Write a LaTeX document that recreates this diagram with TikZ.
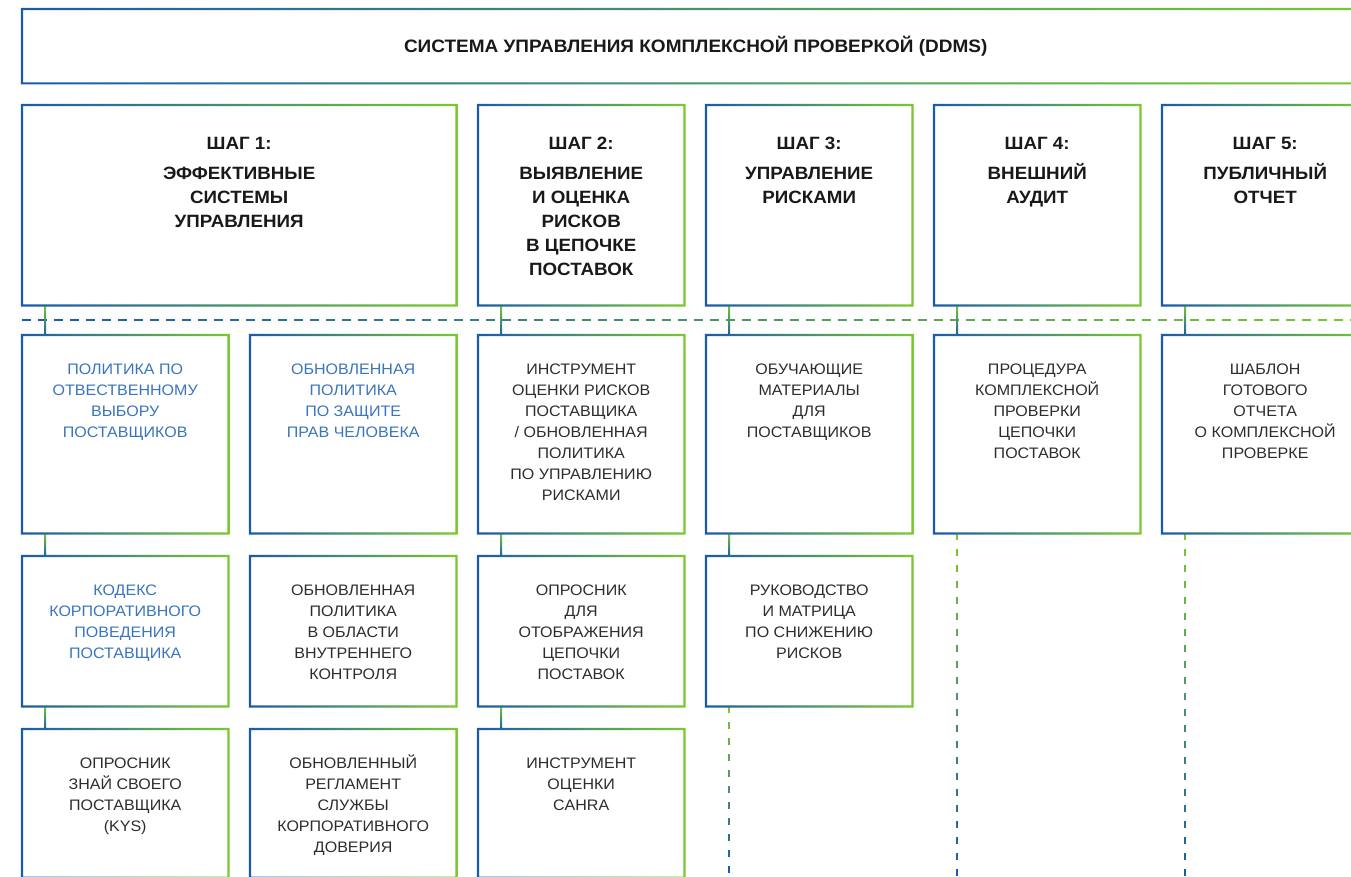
\documentclass[tikz,border=0pt]{standalone}
\usepackage{fontspec}
\setmainfont{Liberation Sans}[FakeStretch=1.055]
\usetikzlibrary{calc}
\definecolor{cb}{RGB}{26,91,170}
\definecolor{cg}{RGB}{122,201,48}
\definecolor{tb}{RGB}{58,117,190}
\definecolor{td}{RGB}{45,45,45}
\definecolor{th}{RGB}{25,25,25}
\newcommand\gframe[1]{\shade[even odd rule, left color=cb, right color=cg]
  ([shift={(-1.1pt,-1.1pt)}]#1.south west) rectangle ([shift={(1.1pt,1.1pt)}]#1.north east)
  ([shift={(1.1pt,1.1pt)}]#1.south west) rectangle ([shift={(-1.1pt,-1.1pt)}]#1.north east);}
\newcommand\conn[2]{\shade[top color=cg, bottom color=cb]
  ([xshift=22pt]#1.south west) rectangle ([xshift=24pt]#2.north west);}
\newcommand\dashdown[2]{%
  \foreach \i in {0,...,#2}{%
    \pgfmathtruncatemacro\pc{100-100*\i/#2}%
    \draw[draw=cg!\pc!cb, line width=2.2pt]
      ([xshift=23pt,yshift={-16pt*\i}]#1.south west) -- ([xshift=23pt,yshift={-16pt*\i-6.5pt}]#1.south west);
  }}
\begin{document}
\begin{tikzpicture}[x=1pt,y=-1pt,
  boxn/.style={draw=none, inner sep=0pt, anchor=north west, minimum width=206pt},
  subtxt/.style={anchor=north, inner sep=0pt, align=center, text=td, font=\fontsize{15.2}{21}\selectfont},
  bluetxt/.style={subtxt, text=tb},
  steptxt/.style={anchor=north, inner sep=0pt, align=center, text=th, font=\bfseries\fontsize{17.8}{24}\selectfont},
]
\useasboundingbox (0,0) rectangle (1351,877);
\clip (0,0) rectangle (1351,877);
\fill[white] (0,0) rectangle (1351,877);

% title
\node[boxn, minimum width=1347pt, minimum height=74pt, text=th, font=\bfseries\fontsize{18}{22}\selectfont] (title) at (22,9)
  {СИСТЕМА УПРАВЛЕНИЯ КОМПЛЕКСНОЙ ПРОВЕРКОЙ (DDMS)};

% steps
\node[boxn, minimum width=434pt, minimum height=200pt] (s1) at (22,105) {};
\node[boxn, minimum height=200pt] (s2) at (478,105) {};
\node[boxn, minimum height=200pt] (s3) at (706,105) {};
\node[boxn, minimum height=200pt] (s4) at (934,105) {};
\node[boxn, minimum height=200pt] (s5) at (1162,105) {};

\node[steptxt] (ts1) at ([yshift=-28pt]s1.north) {\rule{0pt}{16pt}ШАГ 1:\\[6pt]ЭФФЕКТИВНЫЕ\\СИСТЕМЫ\\УПРАВЛЕНИЯ};
\node[steptxt] (ts2) at ([yshift=-28pt]s2.north) {\rule{0pt}{16pt}ШАГ 2:\\[6pt]ВЫЯВЛЕНИЕ\\И ОЦЕНКА\\РИСКОВ\\В ЦЕПОЧКЕ\\ПОСТАВОК};
\node[steptxt] (ts3) at ([yshift=-28pt]s3.north) {\rule{0pt}{16pt}ШАГ 3:\\[6pt]УПРАВЛЕНИЕ\\РИСКАМИ};
\node[steptxt] (ts4) at ([yshift=-28pt]s4.north) {\rule{0pt}{16pt}ШАГ 4:\\[6pt]ВНЕШНИЙ\\АУДИТ};
\node[steptxt] (ts5) at ([yshift=-28pt]s5.north) {\rule{0pt}{16pt}ШАГ 5:\\[6pt]ПУБЛИЧНЫЙ\\ОТЧЕТ};

% row 1
\node[boxn, minimum height=198pt] (r11) at (22,335) {};
\node[boxn, minimum height=198pt] (r12) at (250,335) {};
\node[boxn, minimum height=198pt] (r13) at (478,335) {};
\node[boxn, minimum height=198pt] (r14) at (706,335) {};
\node[boxn, minimum height=198pt] (r15) at (934,335) {};
\node[boxn, minimum height=198pt] (r16) at (1162,335) {};
% row 2
\node[boxn, minimum height=150pt] (r21) at (22,556) {};
\node[boxn, minimum height=150pt] (r22) at (250,556) {};
\node[boxn, minimum height=150pt] (r23) at (478,556) {};
\node[boxn, minimum height=150pt] (r24) at (706,556) {};
% row 3
\node[boxn, minimum height=148.3pt] (r31) at (22,729) {};
\node[boxn, minimum height=148.3pt] (r32) at (250,729) {};
\node[boxn, minimum height=148.3pt] (r33) at (478,729) {};

\node[bluetxt] (t11) at ([yshift=-25pt]r11.north) {\rule{0pt}{14pt}ПОЛИТИКА ПО\\ОТВЕСТВЕННОМУ\\ВЫБОРУ\\ПОСТАВЩИКОВ};
\node[bluetxt] (t12) at ([yshift=-25pt]r12.north) {\rule{0pt}{14pt}ОБНОВЛЕННАЯ\\ПОЛИТИКА\\ПО ЗАЩИТЕ\\ПРАВ ЧЕЛОВЕКА};
\node[subtxt] (t13) at ([yshift=-25pt]r13.north) {\rule{0pt}{14pt}ИНСТРУМЕНТ\\ОЦЕНКИ РИСКОВ\\ПОСТАВЩИКА\\/ ОБНОВЛЕННАЯ\\ПОЛИТИКА\\ПО УПРАВЛЕНИЮ\\РИСКАМИ};
\node[subtxt] (t14) at ([yshift=-25pt]r14.north) {\rule{0pt}{14pt}ОБУЧАЮЩИЕ\\МАТЕРИАЛЫ\\ДЛЯ\\ПОСТАВЩИКОВ};
\node[subtxt] (t15) at ([yshift=-25pt]r15.north) {\rule{0pt}{14pt}ПРОЦЕДУРА\\КОМПЛЕКСНОЙ\\ПРОВЕРКИ\\ЦЕПОЧКИ\\ПОСТАВОК};
\node[subtxt] (t16) at ([yshift=-25pt]r16.north) {\rule{0pt}{14pt}ШАБЛОН\\ГОТОВОГО\\ОТЧЕТА\\О КОМПЛЕКСНОЙ\\ПРОВЕРКЕ};
\node[bluetxt] (t21) at ([yshift=-25pt]r21.north) {\rule{0pt}{14pt}КОДЕКС\\КОРПОРАТИВНОГО\\ПОВЕДЕНИЯ\\ПОСТАВЩИКА};
\node[subtxt] (t22) at ([yshift=-25pt]r22.north) {\rule{0pt}{14pt}ОБНОВЛЕННАЯ\\ПОЛИТИКА\\В ОБЛАСТИ\\ВНУТРЕННЕГО\\КОНТРОЛЯ};
\node[subtxt] (t23) at ([yshift=-25pt]r23.north) {\rule{0pt}{14pt}ОПРОСНИК\\ДЛЯ\\ОТОБРАЖЕНИЯ\\ЦЕПОЧКИ\\ПОСТАВОК};
\node[subtxt] (t24) at ([yshift=-25pt]r24.north) {\rule{0pt}{14pt}РУКОВОДСТВО\\И МАТРИЦА\\ПО СНИЖЕНИЮ\\РИСКОВ};
\node[subtxt] (t31) at ([yshift=-25pt]r31.north) {\rule{0pt}{14pt}ОПРОСНИК\\ЗНАЙ СВОЕГО\\ПОСТАВЩИКА\\(KYS)};
\node[subtxt] (t32) at ([yshift=-25pt]r32.north) {\rule{0pt}{14pt}ОБНОВЛЕННЫЙ\\РЕГЛАМЕНТ\\СЛУЖБЫ\\КОРПОРАТИВНОГО\\ДОВЕРИЯ};
\node[subtxt] (t33) at ([yshift=-25pt]r33.north) {\rule{0pt}{14pt}ИНСТРУМЕНТ\\ОЦЕНКИ\\CAHRA};

% horizontal dashed line
\coordinate (hl) at (22,320);
\foreach \i in {0,...,83}{%
  \pgfmathtruncatemacro\pc{100*\i/83}%
  \draw[draw=cg!\pc!cb, line width=2.5pt] ([xshift={16pt*\i}]hl) -- ([xshift={16pt*\i+9pt}]hl);
}

% solid connectors
\conn{s1}{r11} \conn{r11}{r21} \conn{r21}{r31}
\conn{s2}{r13} \conn{r13}{r23} \conn{r23}{r33}
\conn{s3}{r14} \conn{r14}{r24}
\conn{s4}{r15}
\conn{s5}{r16}

% dashed continuations
\dashdown{r24}{10}
\dashdown{r15}{21}
\dashdown{r16}{21}

% frames
\foreach \b in {title,s1,s2,s3,s4,s5,r11,r12,r13,r14,r15,r16,r21,r22,r23,r24,r31,r32,r33}{\gframe{\b}}
\end{tikzpicture}
\end{document}
